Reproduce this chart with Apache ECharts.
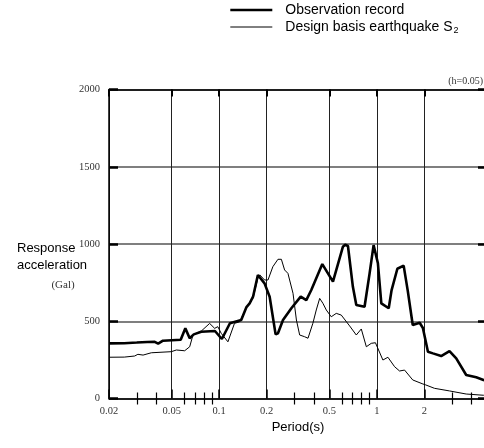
<!DOCTYPE html>
<html>
<head>
<meta charset="utf-8">
<script src="https://cdn.jsdelivr.net/npm/echarts@6/dist/echarts.min.js"></script>
<style>
  html, body { margin: 0; padding: 0; background: #fff; }
  #chart { width: 484px; height: 448px; }
</style>
</head>
<body>
<div id="chart"></div>
<script>
// Acceleration response spectrum (h=0.05): period in seconds, acceleration in Gal
const obsPeriod = [0.02, 0.025, 0.03, 0.035, 0.039, 0.041, 0.044, 0.0535, 0.057, 0.061, 0.065, 0.069, 0.077, 0.094, 0.104, 0.117, 0.138, 0.149, 0.156, 0.164, 0.176, 0.181, 0.194, 0.209, 0.228, 0.236, 0.254, 0.287, 0.329, 0.357, 0.384, 0.451, 0.527, 0.609, 0.63, 0.656, 0.705, 0.741, 0.836, 0.90, 0.954, 1.016, 1.068, 1.19, 1.24, 1.35, 1.48, 1.57, 1.69, 1.87, 1.96, 2.11, 2.27, 2.56, 2.89, 3.19, 3.69, 4.27, 4.75, 5.0];
const obsAccel  = [357, 358, 362, 366, 367, 355, 374, 379, 380, 454, 390, 415, 432, 437, 385, 487, 508, 592, 616, 659, 799, 810, 745, 659, 415, 422, 508, 584, 659, 637, 702, 870, 756, 982, 995, 987, 723, 605, 594, 810, 993, 875, 616, 584, 700, 840, 860, 700, 476, 490, 456, 303, 292, 275, 307, 260, 152, 137, 120, 115];

const desPeriod = [0.02, 0.025, 0.0291, 0.0305, 0.0329, 0.0371, 0.0497, 0.0535, 0.0604, 0.065, 0.0682, 0.0771, 0.087, 0.0936, 0.098, 0.103, 0.1136, 0.125, 0.135, 0.149, 0.164, 0.176, 0.181, 0.194, 0.204, 0.219, 0.236, 0.248, 0.260, 0.273, 0.294, 0.309, 0.324, 0.348, 0.366, 0.393, 0.413, 0.434, 0.455, 0.478, 0.514, 0.553, 0.595, 0.672, 0.741, 0.797, 0.858, 0.922, 0.98, 1.093, 1.176, 1.296, 1.394, 1.50, 1.69, 1.96, 2.03, 2.32, 2.89, 3.69, 4.75, 5.0];
const desAccel  = [267, 268, 275, 286, 281, 296, 303, 314, 309, 335, 411, 437, 486, 454, 465, 422, 367, 486, 497, 590, 650, 780, 800, 767, 767, 853, 901, 901, 832, 810, 681, 508, 411, 400, 390, 487, 573, 648, 616, 573, 529, 551, 540, 470, 411, 450, 335, 357, 361, 249, 267, 206, 178, 184, 120, 94, 89, 66, 49, 29, 21, 19];

const periodTicks = [0.02, 0.05, 0.1, 0.2, 0.5, 1, 2, 5];
const periodTickLabels = ['0.02', '0.05', '0.1', '0.2', '0.5', '1', '2', '5'];
const periodMinorTicks = [0.03, 0.04, 0.06, 0.07, 0.08, 0.09, 0.3, 0.4, 0.6, 0.7, 0.8, 0.9, 3, 4];

const accelMin = 0, accelMax = 2000, accelStep = 500;

const seriesNames = ['Observation record', 'Design basis earthquake S2'];
const legendLabels = ['Observation record', 'Design basis earthquake S{sub|2}'];
const seriesWidths = [2.6, 1];

const SERIF = '"Liberation Serif", "Times New Roman", serif';
const SANS = '"Liberation Sans", Arial, sans-serif';

function periodLabel(v) {
  const i = periodTicks.findIndex(t => Math.abs(Math.log10(v / t)) < 1e-4);
  return i >= 0 ? periodTickLabels[i] : '';
}

function pairs(xs, ys) { return xs.map((x, i) => [x, ys[i]]); }

const baseLogAxis = {
  type: 'log', logBase: 10, min: periodTicks[0], max: periodTicks[periodTicks.length - 1],
  gridIndex: 0, axisLabel: { show: false }, splitLine: { show: false }, axisPointer: { show: false }
};

const chart = echarts.init(document.getElementById('chart'), null, { renderer: 'canvas' });
chart.setOption({
  animation: false,
  backgroundColor: '#fff',
  grid: { left: 109, right: -3, top: 89.5, bottom: 49.5, containLabel: false, outerBoundsMode: 'none' },
  legend: {
    orient: 'vertical', left: 224, top: -2, itemGap: 3, itemWidth: 42, itemHeight: 14,
    data: seriesNames.map((name, i) => ({ name: name, lineStyle: { width: seriesWidths[i], color: '#000' } })),
    formatter: name => legendLabels[seriesNames.indexOf(name)],
    itemStyle: { opacity: 0 },
    textStyle: {
      fontFamily: SANS, fontSize: 14, color: '#000', padding: [0, 0, 0, 8],
      rich: { sub: { fontFamily: SANS, fontSize: 9, color: '#000', verticalAlign: 'bottom', padding: [7, 0, 0, 1] } }
    },
    selectedMode: false
  },
  xAxis: [
    Object.assign({}, baseLogAxis, {
      position: 'bottom',
      name: 'Period(s)', nameLocation: 'middle', nameGap: 22,
      nameTextStyle: { fontFamily: SANS, fontSize: 13, color: '#000' },
      axisLine: { show: true, onZero: false, lineStyle: { color: '#000', width: 1.5 } },
      axisTick: { show: true, inside: true, length: 9, customValues: periodTicks, lineStyle: { color: '#000', width: 1.5 } },
      axisLabel: { show: true, customValues: periodTicks, formatter: periodLabel, margin: 7, fontFamily: SERIF, fontSize: 10.5, color: '#333' },
      splitLine: { show: true, lineStyle: { color: '#222', width: 1 } }
    }),
    Object.assign({}, baseLogAxis, {
      position: 'bottom',
      axisLine: { show: false },
      axisTick: { show: true, inside: true, length: 6, customValues: periodMinorTicks, lineStyle: { color: '#000', width: 1.2 } }
    }),
    Object.assign({}, baseLogAxis, {
      position: 'top',
      axisLine: { show: true, onZero: false, lineStyle: { color: '#000', width: 1.5 } },
      axisTick: { show: true, inside: true, length: 7, customValues: periodTicks, lineStyle: { color: '#000', width: 2 } }
    }),
    Object.assign({}, baseLogAxis, {
      position: 'top',
      axisLine: { show: false },
      axisTick: { show: true, inside: true, length: 6, customValues: periodMinorTicks, lineStyle: { color: '#000', width: 1.2 } }
    })
  ],
  yAxis: [
    {
      type: 'value', position: 'left', min: accelMin, max: accelMax, interval: accelStep,
      axisLine: { show: true, onZero: false, lineStyle: { color: '#000', width: 1.5 } },
      axisTick: { show: true, inside: true, length: 9, lineStyle: { color: '#000', width: 2.5 } },
      axisLabel: { margin: 9, fontFamily: SERIF, fontSize: 10.5, color: '#333', formatter: v => String(v) },
      splitLine: { show: true, lineStyle: { color: '#555', width: 1.5 } }
    },
    {
      type: 'value', position: 'right', min: accelMin, max: accelMax, interval: accelStep,
      axisLine: { show: true, onZero: false, lineStyle: { color: '#000', width: 1.5 } },
      axisTick: { show: true, inside: true, length: 9, lineStyle: { color: '#000', width: 2.5 } },
      axisLabel: { show: false },
      splitLine: { show: false }
    }
  ],
  graphic: [
    { type: 'text', left: 17, top: 242, style: { text: 'Response', font: '13px ' + SANS, fill: '#000' } },
    { type: 'text', left: 17, top: 259, style: { text: 'acceleration', font: '13px ' + SANS, fill: '#000' } },
    { type: 'text', x: 63, y: 285, style: { text: '(Gal)', font: '11px ' + SERIF, fill: '#333', align: 'center', verticalAlign: 'middle' } },
    { type: 'text', x: 483, y: 81, style: { text: '(h=0.05)', font: '10px ' + SERIF, fill: '#333', align: 'right', verticalAlign: 'middle' } }
  ],
  series: [
    {
      name: seriesNames[0], type: 'line', xAxisIndex: 0, yAxisIndex: 0,
      data: pairs(obsPeriod, obsAccel), symbol: 'none', showSymbol: false,
      lineStyle: { color: '#000', width: seriesWidths[0] }, itemStyle: { color: '#000' }, z: 3
    },
    {
      name: seriesNames[1], type: 'line', xAxisIndex: 0, yAxisIndex: 0,
      data: pairs(desPeriod, desAccel), symbol: 'none', showSymbol: false,
      lineStyle: { color: '#000', width: seriesWidths[1] }, itemStyle: { color: '#000' }, z: 2
    }
  ]
});
</script>
</body>
</html>
